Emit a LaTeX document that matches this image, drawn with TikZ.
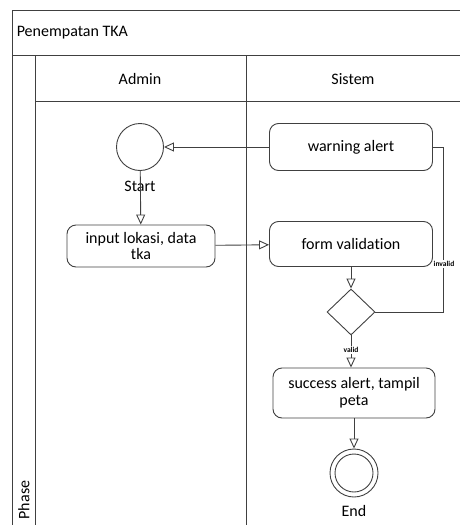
\documentclass[tikz,border=0pt]{standalone}
\usepackage{fontspec}
\setmainfont[Ligatures=NoCommon]{Carlito}
\usetikzlibrary{arrows.meta,shapes.geometric}
\tikzset{
    act/.style={draw, rounded corners=9pt, align=center, inner sep=2pt},
    flow/.style={-{Triangle[open,length=10pt,width=9pt]}},
    tiny/.style={font=\fontsize{7.5}{8}\selectfont\bfseries, inner sep=1pt, fill=white},
}
\begin{document}
\begin{tikzpicture}[x=1pt, y=-1pt, line width=0.9pt, draw=black!75,
    font=\fontsize{16}{17}\selectfont]
    \useasboundingbox (0,0) rectangle (460,525);
    % swimlane frame
    \draw (12,525) -- (12,10) -- (460,10);
    \draw (12,55) -- (460,55);
    \draw (35,101) -- (460,101);
    \foreach \x in {35,246}
        \draw (\x,55) -- (\x,525);
    \node[anchor=west] (title) at (13,33) {Penempatan TKA};
    \node (admin) at (140,79) {Admin};
    \node (sistem) at (353,79) {Sistem};
    \node[rotate=90] (phase) at (24,500) {Phase};
    % activities
    \node[draw, circle, minimum size=47pt, inner sep=0pt] (start) at (140,147) {};
    \node (startlbl) at (140,186) {Start};
    \node[act, minimum width=148pt, minimum height=42pt] (input) at (141,246) {input lokasi, data\\tka};
    \node[act, minimum width=163pt, minimum height=47pt] (warning) at (351,147) {warning alert};
    \node[act, minimum width=163pt, minimum height=45pt] (form) at (351,244) {form validation};
    \node[draw, diamond, minimum width=48pt, minimum height=46pt, inner sep=0pt] (check) at (351,312) {};
    \node[act, minimum width=162pt, minimum height=50pt] (success) at (354,393) {success alert, tampil\\peta};
    \node[draw, circle, minimum size=48pt, inner sep=0pt] (end) at (354,473) {};
    \node[draw, circle, minimum size=38pt, inner sep=0pt] (endin) at (354,473) {};
    \node (endlbl) at (354,511) {End};
    % flows
    \draw[flow] (start) -- (input);
    \draw[flow] (input) -- (form);
    \draw[flow] (warning) -- (start);
    \draw[flow] (form) -- (check);
    \draw[flow] (check.south) -- (check.south |- success.north)
        node[tiny, pos=0.45] {valid};
    \draw (check.east) -- (443,312) -- (443,147) -- (warning.east);
    \node[tiny] (invalid) at (444,264) {invalid};
    \draw[flow] (success) -- (end);
\end{tikzpicture}
\end{document}
